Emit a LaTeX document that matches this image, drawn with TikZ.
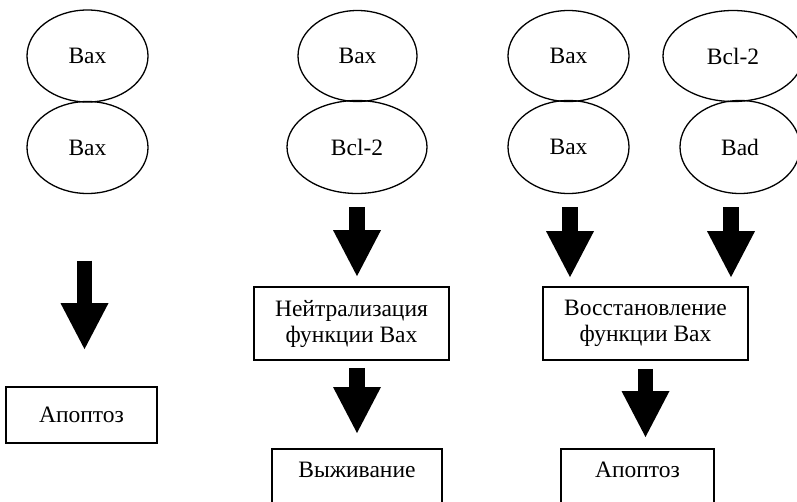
\documentclass[tikz,border=0pt]{standalone}
\usepackage{fontspec}
\setmainfont{Liberation Serif}
\usetikzlibrary{shapes.geometric,arrows.meta}

\tikzset{
  protein/.style={ellipse, draw, line width=1.3pt, inner sep=0pt,
    font=\fontsize{23.5}{26}\selectfont},
  outcome/.style={rectangle, draw, line width=1.8pt, inner sep=0pt, align=center,
    font=\fontsize{23.5}{26}\selectfont},
  blockarrow/.style={line width=15.5pt,
    -{Triangle[length=46pt,width=48pt,line width=0pt]}}
}

\begin{document}
\begin{tikzpicture}[x=1pt,y=-1pt]
\useasboundingbox (0,0) rectangle (797,501);
\clip (0,0) rectangle (797,501);

% Bax homodimer
\node[protein, minimum width=121pt, minimum height=92pt] (bax1a) at (87.5,56) {Bax};
\node[protein, minimum width=121pt, minimum height=92pt] (bax1b) at (87.5,147.5) {Bax};
\node[outcome, minimum width=151pt, minimum height=56pt] (apo1) at (81.5,415) {Апоптоз};

% Bax bound by Bcl-2
\node[protein, minimum width=119pt, minimum height=91pt] (bax2) at (357.5,56) {Bax};
\node[protein, minimum width=140pt, minimum height=93pt] (bcl2a) at (357,147) {Bcl-2};
\node[outcome, minimum width=195pt, minimum height=73pt] (neut) at (351.5,323.5)
  {Нейтрализация\\функции Bax};
\node[outcome, minimum width=170pt, anchor=north, inner ysep=0pt,
  text height=29pt, text depth=60pt] (surv) at (357,448) {Выживание};

% Bad displaces Bcl-2
\node[protein, minimum width=121pt, minimum height=91pt] (bax3a) at (568.5,56) {Bax};
\node[protein, minimum width=121pt, minimum height=93pt] (bax3b) at (568.5,147) {Bax};
\node[protein, minimum width=140pt, minimum height=91pt] (bcl2b) at (733,56) {Bcl-2};
\node[protein, minimum width=120pt, minimum height=93pt] (bad) at (740,147) {Bad};
\node[outcome, minimum width=205pt, minimum height=73pt] (rest) at (645.5,323.5)
  {Восстановление\\функции Bax};
\node[outcome, minimum width=153pt, anchor=north, inner ysep=0pt,
  text height=29pt, text depth=60pt] (apo2) at (637.5,448) {Апоптоз};

% block arrows
\draw[blockarrow, shorten <=66.5pt, shorten >=37pt]
  ([xshift=-3pt]bax1b.south) -- ([xshift=-3pt]bax1b.south |- apo1.north);
\draw[blockarrow, shorten <=13pt, shorten >=10pt]
  (bcl2a.south) -- (bcl2a.south |- neut.north);
\draw[blockarrow, shorten <=7pt, shorten >=15pt]
  (bcl2a.south |- neut.south) -- (bcl2a.south |- surv.north);
\draw[blockarrow, shorten <=13pt, shorten >=9pt]
  ([xshift=1.5pt]bax3b.south) -- ([xshift=1.5pt]bax3b.south |- rest.north);
\draw[blockarrow, shorten <=13pt, shorten >=9pt]
  ([xshift=-9pt]bad.south) -- ([xshift=-9pt]bad.south |- rest.north);
\draw[blockarrow, shorten <=8pt, shorten >=11pt]
  (rest.south) -- (rest.south |- apo2.north);
\end{tikzpicture}
\end{document}
